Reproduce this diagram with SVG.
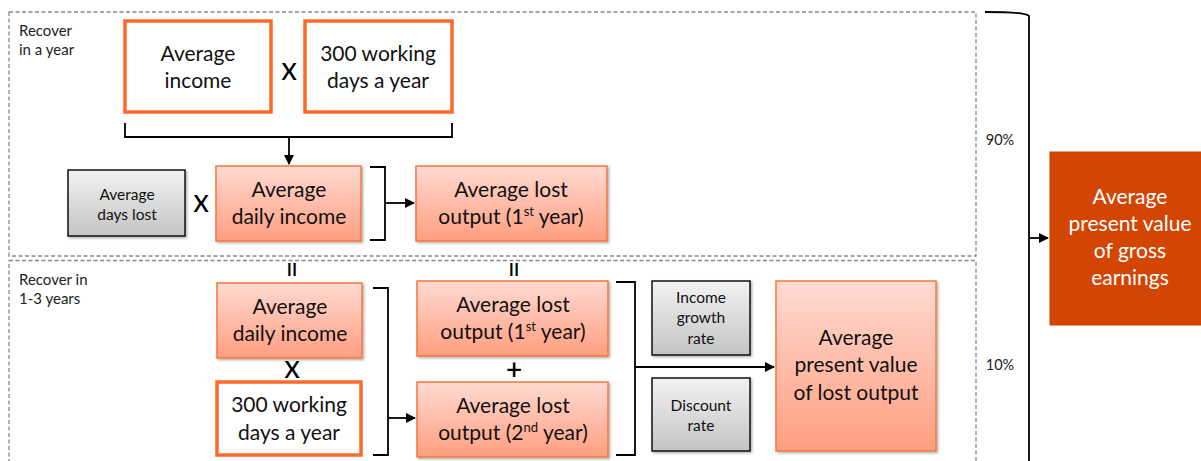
<svg xmlns="http://www.w3.org/2000/svg" width="1201" height="461" viewBox="0 0 1201 461">
<defs>
<linearGradient id="sal" x1="0" y1="0" x2="0" y2="1"><stop offset="0" stop-color="#FFDAD2"/><stop offset="1" stop-color="#FF9E80"/></linearGradient>
<linearGradient id="gry" x1="0" y1="0" x2="0" y2="1"><stop offset="0" stop-color="#F2F2F2"/><stop offset="1" stop-color="#C4C4C4"/></linearGradient>
<marker id="ah" viewBox="0 0 10 10" refX="9" refY="5" markerWidth="10" markerHeight="10" markerUnits="userSpaceOnUse" orient="auto"><path d="M0,0 L10,5 L0,10 z" fill="#000"/></marker>
<filter id="sh" x="-10%" y="-10%" width="130%" height="130%"><feDropShadow dx="1.5" dy="1.5" stdDeviation="1" flood-color="#000" flood-opacity="0.3"/></filter>
</defs>
<style>
text{font-family:Lato,"Liberation Sans",sans-serif;fill:#111;text-anchor:middle}
.t{font-size:21px}
.s{font-size:15.5px}
.lab{font-size:15px;text-anchor:start;fill:#222}
.pc{font-size:14.5px;fill:#222}
.op{font-size:23px;fill:#000;font-weight:600}
.thick{fill:#fff;stroke:#FF6A2A;stroke-width:3.5}
.sal{fill:url(#sal);stroke:#F5773F;stroke-width:1.5;filter:url(#sh)}
.gry{fill:url(#gry);stroke:#111;stroke-width:1.5;filter:url(#sh)}
.dash{fill:none;stroke:#888;stroke-width:1.3;stroke-dasharray:4,2.5}
.ln{fill:none;stroke:#000;stroke-width:1.8}
.ar{fill:none;stroke:#000;stroke-width:1.8;marker-end:url(#ah)}
</style>
<rect width="1201" height="461" fill="#fff"/>
<g id="groups">
<rect class="dash" x="9" y="12" width="967" height="244"/>
<rect class="dash" x="9" y="260.5" width="967" height="210"/>
<text class="lab" x="19" y="36">Recover</text>
<text class="lab" x="19" y="55">in a year</text>
<text class="lab" x="19" y="285">Recover in</text>
<text class="lab" x="19" y="304">1-3 years</text>
</g>
<g id="connectors">
<path class="ln" d="M125,123 V137 H452 V123"/>
<path class="ar" d="M289,137 V164"/>
<path class="ln" d="M370,167 H385 V240 H370"/>
<path class="ar" d="M385,203 H414"/>
<path class="ln" d="M373,288 H388 V455 H373"/>
<path class="ar" d="M388,418 H415"/>
<path class="ln" d="M616,282 H635 V455 H616"/>
<path class="ar" d="M635,367 H774"/>
<path class="ln" d="M985,12 Q1026,12 1029,16 V461"/>
<path class="ar" d="M1029,238 H1048"/>
<text class="pc" x="1000" y="145">90%</text>
<text class="pc" x="1000" y="370">10%</text>
</g>
<g id="n-income"><rect class="thick" x="125" y="21" width="146" height="91"/><text class="t" x="198" y="61">Average</text><text class="t" x="198" y="88">income</text></g>
<g id="op1"><text class="op" x="289" y="80">X</text></g>
<g id="n-days1"><rect class="thick" x="305" y="21" width="147" height="91"/><text class="t" x="378" y="61">300 working</text><text class="t" x="378" y="88">days a year</text></g>
<g id="n-dayslost"><rect class="gry" x="68" y="170" width="117" height="66"/><text class="s" x="127" y="200">Average</text><text class="s" x="127" y="220">days lost</text></g>
<g id="op2"><text class="op" x="201" y="212">X</text></g>
<g id="n-daily1"><rect class="sal" x="216" y="166" width="145" height="75"/><text class="t" x="289" y="197">Average</text><text class="t" x="289" y="224">daily income</text></g>
<g id="n-lost1a"><rect class="sal" x="416" y="166" width="191" height="75"/><text class="t" x="511" y="197">Average lost</text><text class="t" x="511" y="224">output (1<tspan font-size="13" dy="-8">st</tspan><tspan dy="8"> year)</tspan></text></g>
<g id="eq1"><text class="op" x="292" y="276" style="font-size:18px">II</text></g>
<g id="eq2"><text class="op" x="514" y="276" style="font-size:18px">II</text></g>
<g id="n-daily2"><rect class="sal" x="217" y="283" width="145" height="75"/><text class="t" x="290" y="314">Average</text><text class="t" x="290" y="341">daily income</text></g>
<g id="op3"><text class="op" x="292" y="378">X</text></g>
<g id="n-days2"><rect class="thick" x="217" y="382" width="144" height="73"/><text class="t" x="289" y="412">300 working</text><text class="t" x="289" y="440">days a year</text></g>
<g id="n-lost1b"><rect class="sal" x="417" y="281" width="191" height="75"/><text class="t" x="513" y="312">Average lost</text><text class="t" x="513" y="339">output (1<tspan font-size="13" dy="-8">st</tspan><tspan dy="8"> year)</tspan></text></g>
<g id="op4"><text class="op" x="514" y="379" style="font-size:28px">+</text></g>
<g id="n-lost2"><rect class="sal" x="417" y="382" width="191" height="75"/><text class="t" x="513" y="413">Average lost</text><text class="t" x="513" y="440">output (2<tspan font-size="13" dy="-8">nd</tspan><tspan dy="8"> year)</tspan></text></g>
<g id="n-growth"><rect class="gry" x="652" y="281" width="98" height="74"/><text class="s" x="701" y="303">Income</text><text class="s" x="701" y="323">growth</text><text class="s" x="701" y="344">rate</text></g>
<g id="n-discount"><rect class="gry" x="652" y="378" width="98" height="73"/><text class="s" x="701" y="411">Discount</text><text class="s" x="701" y="431">rate</text></g>
<g id="n-pv"><rect class="sal" x="776" y="281" width="160" height="170"/><text class="t" x="856" y="345">Average</text><text class="t" x="856" y="372">present value</text><text class="t" x="856" y="400">of lost output</text></g>
<g id="n-gross"><rect x="1050" y="152" width="155" height="173" fill="#D34503" stroke="#C24104" stroke-width="1"/><text class="t" x="1130" y="204" style="fill:#fff">Average</text><text class="t" x="1130" y="231" style="fill:#fff">present value</text><text class="t" x="1130" y="258" style="fill:#fff">of gross</text><text class="t" x="1130" y="285" style="fill:#fff">earnings</text></g>
</svg>
